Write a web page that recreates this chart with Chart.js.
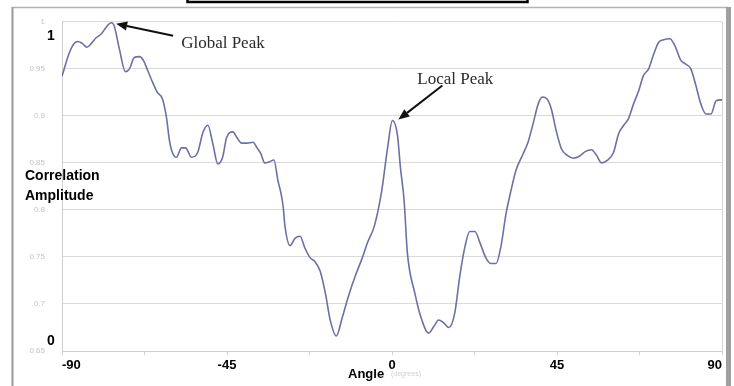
<!DOCTYPE html>
<html>
<head>
<meta charset="utf-8">
<script src="https://cdn.jsdelivr.net/npm/chart.js@4/dist/chart.umd.min.js"></script>
<style>
html,body{margin:0;padding:0;background:#fff;}
#wrap{width:734px;height:386px;position:relative;}
</style>
</head>
<body>
<div id="wrap"><canvas id="c" width="734" height="386"></canvas></div>
<script>
const angles = [-90,-88.1,-86.7,-85.6,-84.5,-83.2,-82,-80.7,-79.3,-78,-76.6,-75.8,-74.4,-72.7,-71.6,-70.3,-68.9,-67.8,-66.7,-65.1,-64,-62.6,-61.5,-60.7,-59.9,-58.8,-57.4,-56.3,-54.7,-53,-51.6,-50.2,-48.9,-47.5,-46.2,-45.1,-43.4,-42.3,-41,-39.6,-37.9,-36.8,-35.8,-34.7,-33.6,-32.2,-31.1,-30.3,-29.7,-29.2,-27.8,-26.4,-25.1,-23.7,-22.3,-21,-19.6,-18.2,-16.8,-15.2,-13.6,-11.9,-10,-8.1,-6.7,-4.8,-2.9,-1.2,0.1,1.5,2.3,3.3,4.2,6.2,7.8,10,11.4,12.7,14.1,15.5,17.1,18.5,19.9,21.2,22.6,24,25.6,27,28.4,29.7,31.1,32.3,33.8,35.8,37.1,38.5,39.9,41,42.3,43.4,44.8,46.2,47.8,49.5,51.1,52.7,54.4,55.8,57.1,58.8,60.4,61.8,63.2,64.5,65.9,67.3,68.6,70,71.4,72.7,74.1,75.8,77.1,78.8,80.1,81.5,82.9,84.2,85.6,87,88.4,90];
const amplitude = [0.942,0.966,0.977,0.979,0.977,0.973,0.977,0.983,0.987,0.994,0.999,0.996,0.972,0.947,0.950,0.962,0.963,0.959,0.949,0.934,0.925,0.918,0.898,0.874,0.861,0.856,0.866,0.866,0.856,0.861,0.882,0.890,0.871,0.849,0.856,0.877,0.883,0.877,0.871,0.871,0.872,0.866,0.860,0.850,0.851,0.853,0.831,0.818,0.804,0.783,0.762,0.770,0.772,0.759,0.749,0.745,0.735,0.712,0.682,0.666,0.685,0.708,0.730,0.749,0.765,0.783,0.818,0.866,0.895,0.879,0.845,0.810,0.754,0.712,0.687,0.669,0.676,0.683,0.680,0.675,0.690,0.730,0.761,0.777,0.777,0.765,0.749,0.743,0.743,0.761,0.796,0.818,0.842,0.860,0.872,0.892,0.913,0.920,0.918,0.908,0.884,0.865,0.858,0.855,0.857,0.862,0.864,0.858,0.850,0.853,0.861,0.881,0.890,0.897,0.913,0.927,0.943,0.950,0.966,0.978,0.981,0.982,0.975,0.959,0.955,0.950,0.932,0.913,0.902,0.902,0.916,0.917];
const yTickValues = [0.65,0.7,0.75,0.8,0.85,0.9,0.95,1];
const yTickLabels = ['0.65','0.7','0.75','0.8','0.85','0.9','0.95','1'];
const xTickValues = [-90,-67.5,-45,-22.5,0,22.5,45,67.5,90];
const xTickLabels = ['-90','','-45','','0','','45','','90'];
const globalPeak = {x:-76.6, y:0.999, label:'Global Peak'};
const localPeak = {x:0.1, y:0.895, label:'Local Peak'};

const points = angles.map((a,i)=>({x:a,y:amplitude[i]}));

function arrow(ctx, x1, y1, x2, y2){
  ctx.save();
  ctx.strokeStyle='#111'; ctx.fillStyle='#111'; ctx.lineWidth=2;
  const ang=Math.atan2(y2-y1,x2-x1);
  const hl=11, hw=4.5;
  const bx=x2-hl*Math.cos(ang), by=y2-hl*Math.sin(ang);
  ctx.beginPath(); ctx.moveTo(x1,y1); ctx.lineTo(bx,by); ctx.stroke();
  ctx.beginPath();
  ctx.moveTo(x2,y2);
  ctx.lineTo(bx+hw*Math.sin(ang), by-hw*Math.cos(ang));
  ctx.lineTo(bx-hw*Math.sin(ang), by+hw*Math.cos(ang));
  ctx.closePath(); ctx.fill();
  ctx.restore();
}

const overlay = {
  id:'overlay',
  beforeDraw(chart){
    const ctx=chart.ctx;
    ctx.save(); ctx.fillStyle='#fff'; ctx.fillRect(0,0,chart.width,chart.height); ctx.restore();
  },
  afterDraw(chart){
    const ctx=chart.ctx, a=chart.chartArea;
    const xs=chart.scales.x, ys=chart.scales.y;
    ctx.save();
    // plot right border
    ctx.strokeStyle='#d4d4d4'; ctx.lineWidth=1;
    ctx.beginPath(); ctx.moveTo(a.right+0.5,a.top); ctx.lineTo(a.right+0.5,a.bottom); ctx.stroke();
    // outer frame
    ctx.strokeStyle='#b4b4b4'; ctx.lineWidth=1.5;
    ctx.beginPath(); ctx.moveTo(12,7.5); ctx.lineTo(729,7.5); ctx.stroke();
    ctx.strokeStyle='#9a9a9a'; ctx.lineWidth=2;
    ctx.beginPath(); ctx.moveTo(12.5,7); ctx.lineTo(12.5,386); ctx.stroke();
    ctx.fillStyle='#a0a0a0'; ctx.fillRect(726,7,5,379);
    // title box remnant
    ctx.strokeStyle='#000'; ctx.lineWidth=2.5;
    ctx.strokeRect(187.5,-10,340,12);
    // annotations
    ctx.fillStyle='#2a2a2a';
    ctx.font='17px "Liberation Serif", "DejaVu Serif", serif';
    ctx.textBaseline='alphabetic'; ctx.textAlign='left';
    const gx=xs.getPixelForValue(globalPeak.x), gy=ys.getPixelForValue(globalPeak.y);
    ctx.fillText(globalPeak.label, gx+70, gy+25);
    arrow(ctx, gx+62, gy+13, gx+5, gy+1);
    const lx=xs.getPixelForValue(localPeak.x), ly=ys.getPixelForValue(localPeak.y);
    ctx.fillText(localPeak.label, lx+25, ly-37);
    arrow(ctx, lx+50, ly-35, lx+6, ly-1);
    // bold overlay labels
    ctx.fillStyle='#000';
    ctx.font='bold 14px "Liberation Sans", Arial, sans-serif';
    ctx.textAlign='center'; ctx.textBaseline='alphabetic';
    ctx.fillText('1', 51, 40);
    ctx.fillText('0', 51, 345);
    ctx.textAlign='left';
    ctx.fillText('Correlation', 25, 180);
    ctx.fillText('Amplitude', 25, 200);
    ctx.font='bold 13px "Liberation Sans", Arial, sans-serif';
    ctx.fillText('Angle', 348, 378);
    ctx.fillStyle='#d0d0d0';
    ctx.font='7px "Liberation Sans", Arial, sans-serif';
    ctx.fillText('(degrees)', 391, 376);
    ctx.restore();
  }
};

new Chart(document.getElementById('c'), {
  type:'line',
  data:{datasets:[{
    data:points,
    borderColor:'#6d6fa6',
    borderWidth:1.6,
    pointRadius:0,
    fill:false,
    cubicInterpolationMode:'monotone'
  }]},
  options:{
    responsive:false,
    animation:false,
    events:[],
    layout:{padding:{left:0,right:12,top:21,bottom:0}},
    plugins:{legend:{display:false},tooltip:{enabled:false},title:{display:false}},
    scales:{
      x:{
        type:'linear', min:-90, max:90,
        afterBuildTicks(s){ s.ticks = xTickValues.map(v=>({value:v})); },
        afterFit(s){ s.height = 35; },
        grid:{drawOnChartArea:false, drawTicks:true, tickLength:4, tickColor:'#cfcfcf'},
        border:{color:'#cfcfcf'},
        ticks:{
          autoSkip:false, maxRotation:0, padding:3, align:'inner',
          color:'#000',
          font:{family:'"Liberation Sans", Arial, sans-serif', size:13, weight:'bold'},
          callback(v,i){ return xTickLabels[i]; }
        }
      },
      y:{
        type:'linear', min:0.65, max:1,
        afterBuildTicks(s){ s.ticks = yTickValues.map(v=>({value:v})); },
        afterFit(s){ s.width = 62; },
        grid:{color:'#dadada', drawTicks:false},
        border:{color:'#cfcfcf'},
        ticks:{
          padding:17,
          color:'#c4c4c4',
          font:{family:'"Liberation Sans", Arial, sans-serif', size:8},
          callback(v,i){ return yTickLabels[i]; }
        }
      }
    }
  },
  plugins:[overlay]
});
</script>
</body>
</html>
